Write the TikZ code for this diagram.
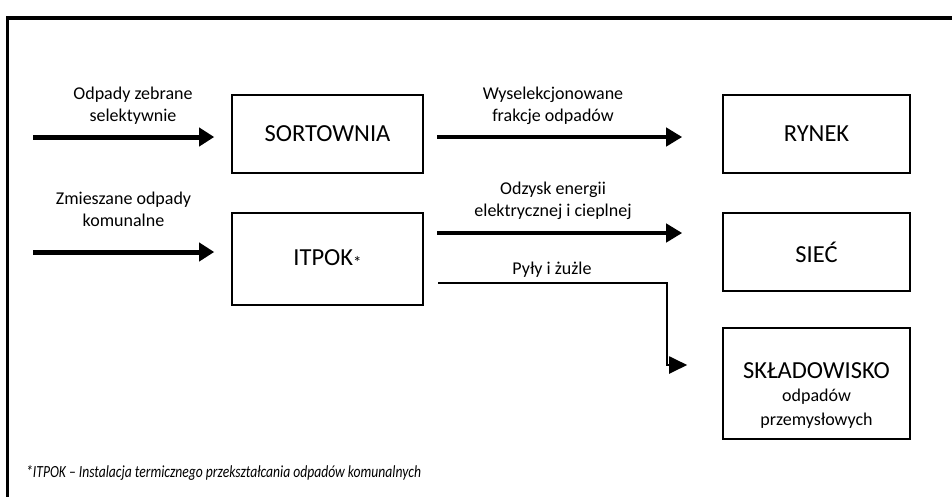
\documentclass[tikz,border=0pt]{standalone}
\usepackage{fontspec}
\setmainfont{Carlito}
\usetikzlibrary{arrows.meta}
\begin{document}
\begin{tikzpicture}[x=1pt,y=-1pt,
  box/.style={draw,line width=1.6pt,minimum width=191pt,inner sep=0pt,font=\fontsize{24.5}{28}\selectfont},
  lbl/.style={align=center,font=\fontsize{18}{22}\selectfont,inner sep=0pt},
  big/.style={inner sep=0pt,font=\fontsize{24.5}{28}\selectfont},
  small/.style={inner sep=0pt,font=\fontsize{18}{22}\selectfont},
  thickarr/.style={line width=5pt,-{Triangle[length=15pt,width=18pt]}},
  midarr/.style={line width=4pt,-{Triangle[length=16pt,width=18pt]}},
  thinarr/.style={line width=2pt,-{Triangle[length=18pt,width=17pt]}}]
\useasboundingbox (0,0) rectangle (952,496);
\begin{scope}
\clip (0,0) rectangle (952,496);
\draw[line width=3.5pt] (7.5,520) -- (7.5,18) -- (980,18);
\end{scope}
% boxes
\node[box,minimum height=78pt] (sort) at (327.5,134) {SORTOWNIA};
\node[box,minimum height=92pt] (itpok) at (327.5,259) {ITPOK\raisebox{-3pt}{\fontsize{17}{17}\selectfont*}};
\node[box,minimum height=78pt,minimum width=187pt] (rynek) at (816.5,134) {RYNEK};
\node[box,minimum height=78pt,minimum width=187pt] (siec) at (816.5,252) {SIEĆ};
\node[box,minimum height=111pt,minimum width=187pt] (skl) at (816.5,383.5) {};
\node[big] (skl1) at (816.5,371) {SKŁADOWISKO};
\node[small] (skl2) at (816.5,397) {odpadów};
\node[small] (skl3) at (816.5,421) {przemysłowych};
% labels
\node[lbl] (l1) at (133,106) {Odpady zebrane\\selektywnie};
\node[lbl] (l2) at (123.5,209) {Zmieszane odpady\\komunalne};
\node[lbl] (l3) at (553,106) {Wyselekcjonowane\\frakcje odpadów};
\node[lbl] (l4) at (553,201) {Odzysk energii\\elektrycznej i cieplnej};
\node[lbl] (l5) at (552,270) {Pyły i żużle};
\node[anchor=west,inner sep=0pt,font=\fontsize{17}{20}\selectfont\itshape] (foot) at (26,473) {\scalebox{0.8}[1]{*ITPOK – Instalacja termicznego przekształcania odpadów komunalnych}};
% connectors
\coordinate (s1) at (33,137);
\coordinate (s2) at (33,252);
\coordinate (s3) at (437,137);
\coordinate (s4) at (437,233);
\coordinate (s5) at (438,283);
\coordinate (b5) at (667,283);
\coordinate (c5) at (667,365);
\draw[thickarr,shorten >=17pt] (s1) -- (s1 -| sort.west);
\draw[thickarr,shorten >=17pt] (s2) -- (s2 -| itpok.west);
\draw[midarr,shorten >=40pt] (s3) -- (s3 -| rynek.west);
\draw[midarr,shorten >=40pt] (s4) -- (s4 -| siec.west);
\draw[thinarr,shorten >=35pt] (s5) -- (b5) -- (c5) -- (c5 -| skl.west);
\end{tikzpicture}
\end{document}
